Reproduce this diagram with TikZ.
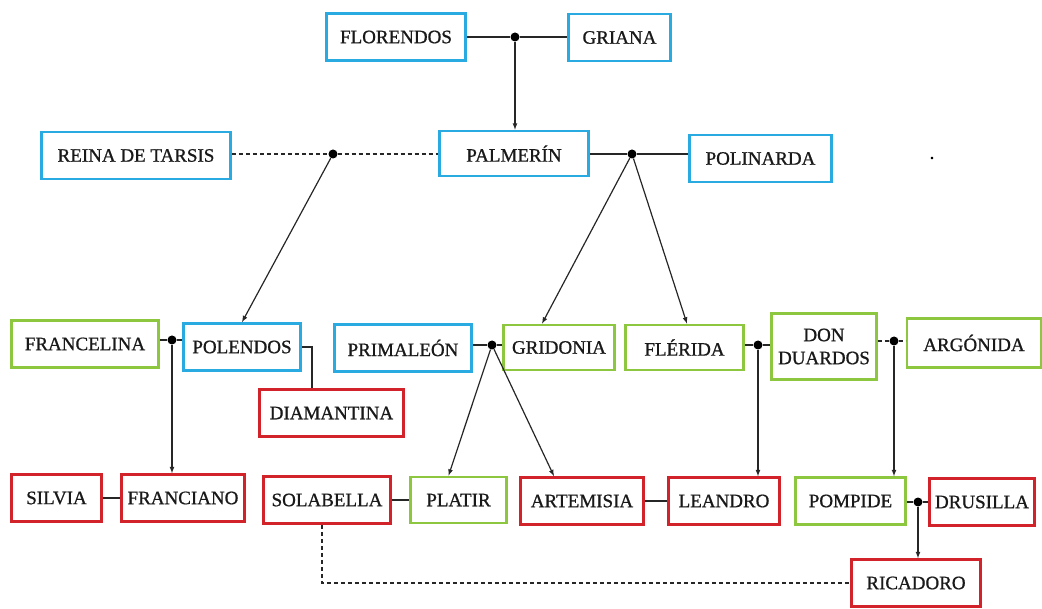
\documentclass[tikz,border=0pt]{standalone}
\usepackage{fontspec}
\setmainfont[UprightFeatures={FakeBold=0.9}]{Liberation Serif}
\usetikzlibrary{arrows,positioning,calc}
\definecolor{famBlue}{RGB}{41,171,226}
\definecolor{famGreen}{RGB}{141,198,63}
\definecolor{famRed}{RGB}{210,35,42}
\tikzstyle{person}  =[draw,fill=white,rectangle,line width=2.6pt,minimum height=47pt,inner sep=0pt,text=black!90]
\tikzstyle{blueBox} =[person,draw=famBlue]
\tikzstyle{greenBox}=[person,draw=famGreen]
\tikzstyle{redBox}  =[person,draw=famRed]
\tikzstyle{knot}    =[circle,fill=black,minimum size=9pt,inner sep=0pt]
\tikzstyle{link}    =[line width=1.2pt,draw=black!85]
\tikzstyle{descent} =[link,-latex]
\tikzstyle{affair}  =[link,dash pattern=on 4pt off 3pt]

\begin{document}
\begin{tikzpicture}[x=1pt,y=-1pt,font=\fontsize{19}{23}\selectfont]
  \useasboundingbox (0,0) rectangle (1042,609);

  % first generations
  \node [blueBox,minimum width=139pt] (florendos) at (396,37) {FLORENDOS};
  \node [blueBox,minimum width=102pt] (griana) at (619.5,37.5) {GRIANA};
  \node [blueBox,minimum width=149pt,minimum height=45pt] (palmerin) at (514,153.5) {PALMERÍN};
  \node [blueBox,minimum width=189pt] (reina) at (136,155.5) {REINA DE TARSIS};
  \node [blueBox,minimum width=142pt] (polinarda) at (760.5,158.5) {POLINARDA};
  \node (stray) at (932,158) {.};

  % middle row
  \node [greenBox,minimum width=147pt] (francelina) at (85,344) {FRANCELINA};
  \node [blueBox,minimum width=117pt] (polendos) at (242,347) {POLENDOS};
  \node [redBox,minimum width=144pt] (diamantina) at (331.5,413) {DIAMANTINA};
  \node [blueBox,minimum width=137pt] (primaleon) at (403,348) {PRIMALEÓN};
  \node [greenBox,minimum width=111pt,minimum height=45pt] (gridonia) at (559,347.5) {GRIDONIA};
  \node [greenBox,minimum width=118pt,minimum height=45pt] (florida) at (684.5,347.5) {FLÉRIDA};
  \node [greenBox,minimum width=105pt,minimum height=66pt,align=center] (donduardos) at (824,346.5) {DON\\DUARDOS};
  \node [greenBox,minimum width=134pt,minimum height=49pt] (argonida) at (974,343) {ARGÓNIDA};

  % bottom row
  \node [redBox,minimum width=90pt] (silvia) at (56.5,498) {SILVIA};
  \node [redBox,minimum width=123pt] (franciano) at (183,498) {FRANCIANO};
  \node [redBox,minimum width=127pt] (solabella) at (327,500) {SOLABELLA};
  \node [greenBox,minimum width=96pt,minimum height=46pt] (platir) at (458.5,500) {PLATIR};
  \node [redBox,minimum width=123pt] (artemisia) at (582,501) {ARTEMISIA};
  \node [redBox,minimum width=111pt] (leandro) at (724,501) {LEANDRO};
  \node [greenBox,minimum width=110pt] (pompide) at (850.5,501) {POMPIDE};
  \node [redBox,minimum width=105pt] (drusilla) at (982,502) {DRUSILLA};
  \node [redBox,minimum width=129pt] (ricadoro) at (916,583) {RICADORO};

  % unions
  \node [knot] (d1) at (515,37) {};
  \node [knot] (d2) at (333,154) {};
  \node [knot] (d3) at (632,154) {};
  \node [knot] (d4) at (172,340) {};
  \node [knot] (d5) at (492,345) {};
  \node [knot] (d6) at (758,345) {};
  \node [knot] (d7) at (894,341) {};
  \node [knot] (d8) at (918,502) {};

  \draw [link] (florendos.east |- d1) -- (d1) -- (griana.west |- d1);
  \draw [affair] (reina.east |- d2) -- (d2) -- (palmerin.west |- d2);
  \draw [link] (palmerin.east |- d3) -- (d3) -- (polinarda.west |- d3);
  \draw [link] (francelina.east |- d4) -- (d4) -- (polendos.west |- d4);
  \draw [link] (primaleon.east |- d5) -- (d5) -- (gridonia.west |- d5);
  \draw [link] (florida.east |- d6) -- (d6) -- (donduardos.west |- d6);
  \draw [affair] (donduardos.east |- d7) -- (d7) -- (argonida.west |- d7);
  \draw [link] (pompide.east |- d8) -- (d8) -- (drusilla.west |- d8);
  \draw [link] (polendos.east) -| ([xshift=-19.5pt]diamantina.north);
  \draw [link] (silvia) -- (franciano);
  \draw [link] (solabella) -- (platir);
  \draw [link] (artemisia) -- (leandro);
  \draw [affair] ([xshift=-5pt]solabella.south) |- (ricadoro.west);

  % descent
  \draw [descent] (d1) -- (d1 |- palmerin.north);
  \draw [descent] (d2) -- (polendos.north);
  \draw [descent] (d3) -- ([xshift=-17pt]gridonia.north);
  \draw [descent] (d3) -- ([xshift=2.5pt]florida.north);
  \draw [descent] (d4) -- (d4 |- franciano.north);
  \draw [descent] (d5) -- ([xshift=-10pt]platir.north);
  \draw [descent] (d5) -- ([xshift=-28pt]artemisia.north);
  \draw [descent] (d6) -- (d6 |- leandro.north);
  \draw [descent] (d7) -- (d7 |- pompide.north);
  \draw [descent] (d8) -- (d8 |- ricadoro.north);
\end{tikzpicture}
\end{document}
